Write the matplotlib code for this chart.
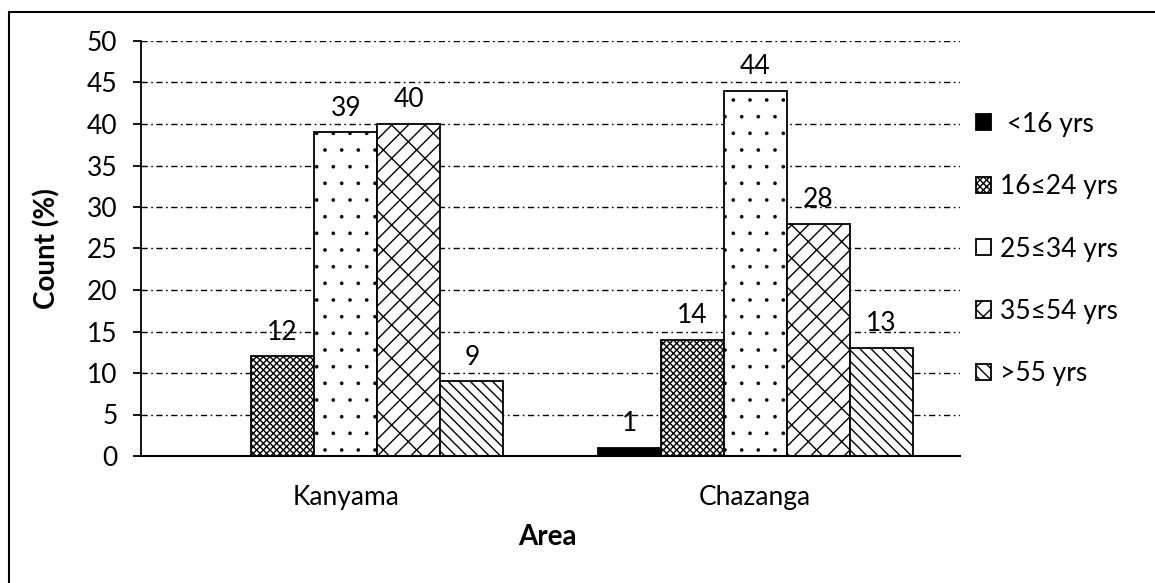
import numpy as np
import matplotlib.pyplot as plt
from matplotlib.patches import Rectangle

plt.rcParams['font.family'] = ['Lato', 'DejaVu Sans']

areas = ['Kanyama', 'Chazanga']
age_groups = [' <16 yrs', '16≤24 yrs', '25≤34 yrs', '35≤54 yrs', '>55 yrs']
under_16 = [0, 1]
age_16_24 = [12, 14]
age_25_34 = [39, 44]
age_35_54 = [40, 28]
over_55 = [9, 13]
yticks = [0, 5, 10, 15, 20, 25, 30, 35, 40, 45, 50]

series = [under_16, age_16_24, age_25_34, age_35_54, over_55]
hatches = [None, 'xxxxx', '.', '//\\', '\\\\\\']
hatch_lw = [1.0, 1.0, 0.2, 1.0, 1.0]
fills = ['black', 'white', 'white', 'white', 'white']

def main():
    fig = plt.figure(figsize=(11.55, 5.83), dpi=100)
    ax = fig.add_axes([141 / 1155, 1 - 456 / 583, 819 / 1155, 415 / 583])

    x = np.arange(len(areas))
    w = 0.154
    for i, vals in enumerate(series):
        pos = x + (i - 2) * w
        with plt.rc_context({'hatch.linewidth': hatch_lw[i]}):
            bars = ax.bar(pos, vals, w, color=fills[i], edgecolor='black',
                          linewidth=1.3, hatch=hatches[i], label=age_groups[i],
                          zorder=2)
        for b, v in zip(bars, vals):
            if hasattr(b, 'set_hatch_linewidth'):
                b.set_hatch_linewidth(hatch_lw[i])
            if v == 0:
                continue
            ax.annotate(str(v), (b.get_x() + b.get_width() / 2, v),
                        xytext=(0, 12), textcoords='offset points',
                        ha='center', va='baseline', fontsize=19)

    ax.set_xlim(-0.5, 1.5)
    ax.set_ylim(0, 50)
    ax.set_yticks(yticks)
    ax.set_xticks(x)
    ax.set_xticklabels(areas)
    ax.tick_params(axis='x', length=0, pad=21, labelsize=19)
    ax.tick_params(axis='y', length=6, width=1.3, pad=11, labelsize=19)

    ax.grid(axis='y', color='black', linewidth=1.0,
            linestyle=(0, (4.5, 2.5, 1.2, 2.5)))
    ax.set_axisbelow(True)
    for s in ['top', 'right']:
        ax.spines[s].set_visible(False)
    ax.spines['left'].set_linewidth(1.3)
    ax.spines['bottom'].set_linewidth(1.5)

    ax.set_xlabel('Area', fontsize=20, fontweight='bold')
    ax.set_ylabel('Count (%)', fontsize=20, fontweight='bold')
    ax.xaxis.set_label_coords(0.496, -0.195)
    ax.yaxis.set_label_coords(-0.115, 0.501)
    ax.xaxis.label.set_va('center')
    ax.yaxis.label.set_va('center')

    leg = ax.legend(loc='center left',
                    bbox_to_anchor=(975.5 / 1155, 1 - 249 / 583),
                    bbox_transform=fig.transFigure, frameon=False, fontsize=19,
                    handlelength=0.58, handleheight=0.58, handletextpad=0.35,
                    labelspacing=1.42, borderpad=0, borderaxespad=0)
    for h, lw in zip(leg.get_patches(), hatch_lw):
        if hasattr(h, 'set_hatch_linewidth'):
            h.set_hatch_linewidth(lw)

    fig.add_artist(Rectangle((8.5 / 1155, -0.05), 1.2, (583 - 11.5) / 583 + 0.05,
                             transform=fig.transFigure, fill=False,
                             edgecolor='black', linewidth=1.5, clip_on=False))

    fig.savefig('out.png', dpi=100)

main()
